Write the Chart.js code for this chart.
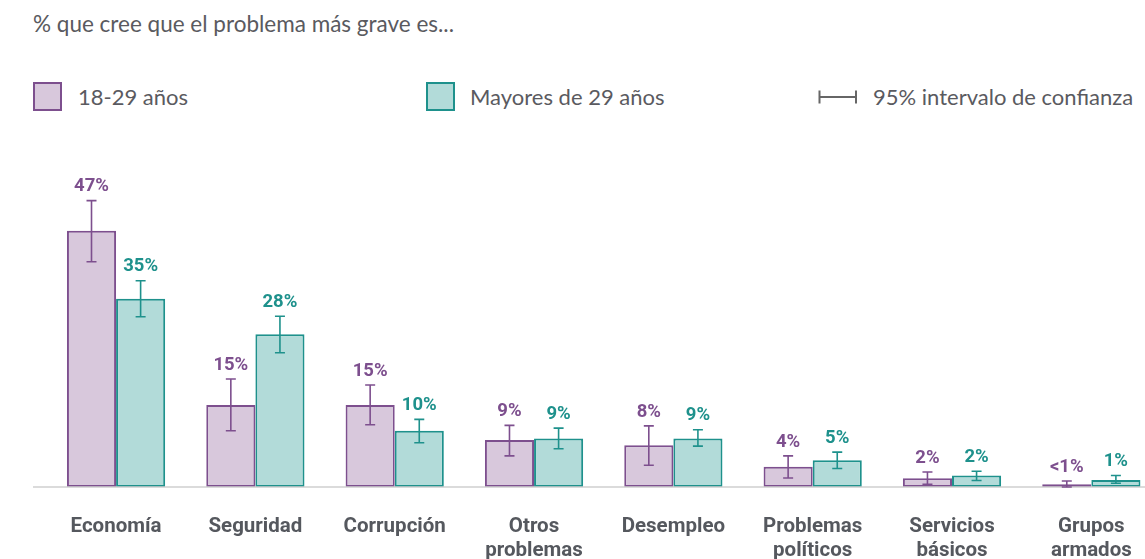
<!DOCTYPE html>
<html>
<head>
<meta charset="utf-8">
<script src="https://cdn.jsdelivr.net/npm/chart.js@4.4.1/dist/chart.umd.min.js"></script>
<style>
  html, body { margin: 0; padding: 0; background: #fff; overflow: hidden; }
  #wrap { position: relative; width: 1145px; height: 559px; overflow: hidden; }
  #title { position: absolute; left: 33px; top: 10px; font: 22.5px Lato, sans-serif; color: #5a5a60; white-space: nowrap; }
  .leg { position: absolute; top: 82px; height: 29px; font: 22px Lato, sans-serif; color: #5a5a60; line-height: 29px; }
  .sq { position: absolute; left: 0; top: 0; width: 25px; height: 25px; border: 2px solid; }
  .leg span.t { position: absolute; white-space: nowrap; top: 0; }
  #cv { position: absolute; left: 0; top: 0; }
</style>
</head>
<body>
<div id="wrap">
  <div id="title">% que cree que el problema más grave es...</div>
  <div class="leg" style="left:33px"><div class="sq" style="background:#d8c8dc;border-color:#7d4f8e"></div><span class="t" style="left:45px">18-29 años</span></div>
  <div class="leg" style="left:426px"><div class="sq" style="background:#b2dbd9;border-color:#1e918c"></div><span class="t" style="left:44px">Mayores de 29 años</span></div>
  <div class="leg" style="left:818px">
    <svg width="40" height="29" style="position:absolute;left:0;top:0"><path d="M1.5 8.5 V21.5 M1.5 15 H38 M38 8.5 V21.5" stroke="#666" stroke-width="2" fill="none"/></svg>
    <span class="t" style="left:55px">95% intervalo de confianza</span>
  </div>
  <div id="cv"><canvas id="myChart" width="1165" height="559" style="width:1165px;height:559px"></canvas></div>
</div>
<script>
const categories = ['Economía', 'Seguridad', 'Corrupción', ['Otros', 'problemas'], 'Desempleo', ['Problemas', 'políticos'], ['Servicios', 'básicos'], ['Grupos', 'armados']];

const young = [47, 15.05, 15.05, 8.6, 7.65, 3.7, 1.6, 0.5];
const youngLow = [41.3, 10.3, 11.4, 5.7, 4.0, 1.65, 0.5, 0.0];
const youngHigh = [52.5, 19.8, 18.7, 11.3, 11.2, 5.7, 2.75, 1.1];
const youngLabels = ['47%', '15%', '15%', '9%', '8%', '4%', '2%', '<1%'];

const older = [34.5, 28.0, 10.3, 8.9, 8.9, 4.9, 2.1, 1.3];
const olderLow = [31.2, 24.6, 8.1, 7.0, 7.5, 3.4, 1.2, 0.7];
const olderHigh = [37.8, 31.3, 12.4, 10.8, 10.5, 6.4, 2.9, 2.1];
const olderLabels = ['35%', '28%', '10%', '9%', '9%', '5%', '2%', '1%'];

const purple = '#7d4f8e';
const teal = '#1e918c';

// error bars, value labels and baseline
const extras = {
    id: 'extras',
    afterDatasetsDraw(chart) {
        const ctx = chart.ctx;
        const y = chart.scales.y;
        const ci = [[youngLow, youngHigh, youngLabels, purple], [olderLow, olderHigh, olderLabels, teal]];

        ctx.save();
        ctx.strokeStyle = '#cfcfcf';
        ctx.lineWidth = 1.5;
        ctx.beginPath();
        ctx.moveTo(33, y.getPixelForValue(0));
        ctx.lineTo(chart.width, y.getPixelForValue(0));
        ctx.stroke();

        ci.forEach(([lo, hi, labs, col], d) => {
            chart.getDatasetMeta(d).data.forEach((bar, i) => {
                const x = bar.x;
                const yl = y.getPixelForValue(lo[i]);
                const yh = y.getPixelForValue(hi[i]);
                ctx.strokeStyle = col;
                ctx.lineWidth = 1.6;
                ctx.beginPath();
                ctx.moveTo(x, yl); ctx.lineTo(x, yh);
                ctx.moveTo(x - 5, yl); ctx.lineTo(x + 5, yl);
                ctx.moveTo(x - 5, yh); ctx.lineTo(x + 5, yh);
                ctx.stroke();

                ctx.fillStyle = col;
                ctx.font = 'bold 18.5px Roboto, sans-serif';
                ctx.textAlign = 'center';
                ctx.textBaseline = 'middle';
                ctx.fillText(labs[i], x, yh - 14);
            });
        });
        ctx.restore();
    }
};

const chart = new Chart(document.getElementById('myChart').getContext('2d'), {
    type: 'bar',
    data: {
        labels: categories,
        datasets: [
            {
                label: '18-29 años',
                data: young,
                backgroundColor: '#d8c8dc',
                borderColor: purple,
                borderWidth: 2,
                borderSkipped: false,
            },
            {
                label: 'Mayores de 29 años',
                data: older,
                backgroundColor: '#b2dbd9',
                borderColor: teal,
                borderWidth: 2,
                borderSkipped: false,
            }
        ]
    },
    options: {
        responsive: false,
        animation: false,
        categoryPercentage: 0.705,
        barPercentage: 1.0,
        layout: { padding: { left: 46.4, right: 4, top: 187, bottom: 0 } },
        plugins: {
            legend: { display: false },
            tooltip: { enabled: false }
        },
        scales: {
            x: {
                grid: { display: false },
                border: { display: false },
                ticks: {
                    color: '#55585e',
                    font: { family: 'Roboto', weight: 'bold', size: 20.5, lineHeight: 1.17 },
                    padding: 20,
                    maxRotation: 0,
                    autoSkip: false,
                },
                afterFit: (s) => { s.height = 72; }
            },
            y: {
                display: false,
                min: 0,
                max: 55,
            }
        }
    },
    plugins: [extras]
});
</script>
</body>
</html>
